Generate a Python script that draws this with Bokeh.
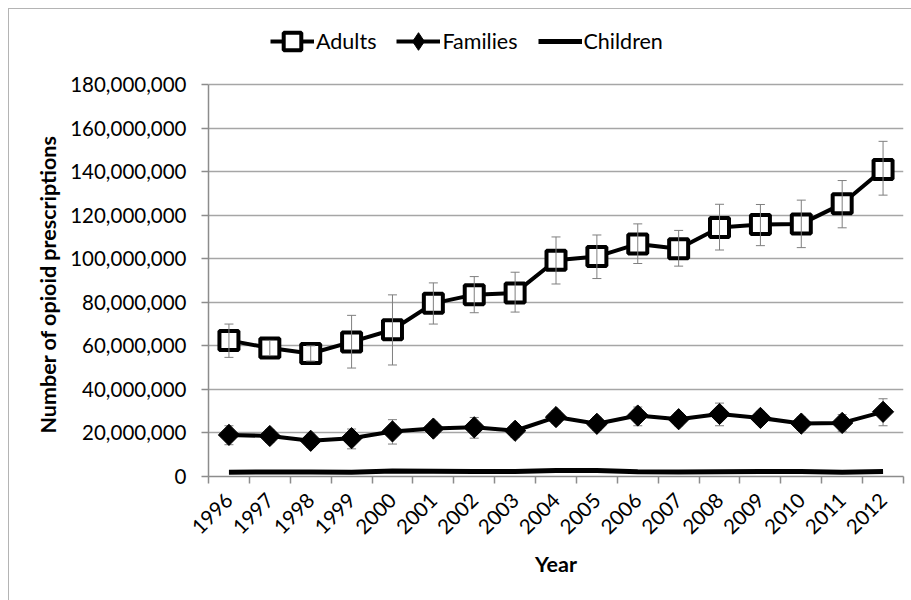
import math
from bokeh.plotting import figure
from bokeh.models import (ColumnDataSource, FixedTicker, NumeralTickFormatter, Legend,
                          LegendItem, Range1d, Whisker, TeeHead, CustomJSTickFormatter, Title)
from bokeh.embed import file_html
from bokeh.resources import INLINE

years = list(range(1996, 2013))
adults = [62.5, 59.0, 56.5, 61.8, 67.4, 79.5, 83.5, 84.3, 99.3, 101.0, 106.8, 104.6,
          114.3, 115.7, 116.0, 125.2, 141.0]
adults_hi = [70.0, 62.5, 60.0, 74.0, 83.4, 88.9, 91.8, 93.8, 110.0, 110.9, 116.0, 113.0,
             125.0, 124.9, 126.9, 135.9, 153.9]
adults_lo = [54.7, 55.5, 53.0, 49.8, 51.2, 70.0, 75.2, 75.5, 88.4, 90.9, 97.8, 96.6,
             104.0, 106.0, 105.1, 114.2, 129.2]
families = [19.1, 18.6, 16.4, 17.6, 20.7, 22.0, 22.6, 21.0, 27.3, 24.2, 28.0, 26.3,
            28.7, 26.9, 24.3, 24.6, 29.7]
families_hi = [23.3, 21.6, 19.4, 21.8, 26.1, 25.0, 27.1, 24.0, 30.3, 27.2, 31.9, 29.3,
               33.7, 29.9, 27.3, 28.4, 35.7]
families_lo = [14.6, 15.6, 13.4, 12.7, 14.9, 19.0, 17.6, 18.0, 24.3, 21.2, 23.3, 23.3,
               23.3, 23.9, 21.3, 20.8, 23.3]
children = [2.0, 2.1, 2.1, 1.9, 2.5, 2.4, 2.3, 2.3, 2.8, 2.7, 2.2, 2.1, 2.2, 2.3, 2.3,
            2.0, 2.3]
y_ticks = [0, 20, 40, 60, 80, 100, 120, 140, 160, 180]

M = 1_000_000
src = ColumnDataSource(dict(
    x=years,
    adults=[v * M for v in adults], adults_hi=[v * M for v in adults_hi],
    adults_lo=[v * M for v in adults_lo],
    families=[v * M for v in families], families_hi=[v * M for v in families_hi],
    families_lo=[v * M for v in families_lo],
    children=[v * M for v in children],
))

FONT = "Lato"
GRAY = "#8c8c8c"

# frame extends above the top gridline to host the legend
FIG_H, TOP, BOTTOM = 592, 0, 125
frame_h = FIG_H - TOP - BOTTOM
grid_h = 392.0
y_max = y_ticks[-1] * M * frame_h / grid_h

p = figure(width=903, height=FIG_H, output_backend="svg", toolbar_location=None,
           x_range=Range1d(years[0] - 0.5, years[-1] + 0.5),
           y_range=Range1d(0, y_max),
           min_border_left=199, min_border_right=9, min_border_top=TOP, min_border_bottom=BOTTOM,
           margin=(8, 0, 0, 8))
p.styles = {"border-left": "1px solid #b4b4b4", "border-top": "1px solid #b4b4b4"}
p.outline_line_color = None
p.background_fill_color = "white"
p.border_fill_color = "white"

# grid
p.xgrid.grid_line_color = None
p.ygrid.grid_line_color = "#a6a6a6"
p.ygrid.grid_line_width = 1.5
p.ygrid.ticker = FixedTicker(ticks=[t * M for t in y_ticks])

# y axis
p.yaxis.ticker = FixedTicker(ticks=[t * M for t in y_ticks])
p.yaxis.bounds = (0, y_ticks[-1] * M)
p.yaxis.formatter = NumeralTickFormatter(format="0,0")
p.yaxis.axis_line_color = GRAY
p.yaxis.axis_line_width = 1.5
p.yaxis.major_tick_line_color = GRAY
p.yaxis.major_tick_line_width = 1.5
p.yaxis.major_tick_out = 7
p.yaxis.major_tick_in = 0
p.yaxis.minor_tick_line_color = None
p.yaxis.major_label_text_font = FONT
p.yaxis.major_label_text_font_size = "20.5px"
p.yaxis.major_label_text_color = "black"
p.yaxis.major_label_standoff = 15

# y axis title as a side title so it centres on the gridded area
ytitle = Title(text="Number of opioid prescriptions", align="left", offset=43,
               text_font=FONT, text_font_style="bold", text_font_size="21.5px",
               text_color="black", standoff=13)
p.add_layout(ytitle, "left")

# x axis
p.xaxis.ticker = FixedTicker(ticks=years, minor_ticks=[y - 0.5 for y in years] + [years[-1] + 0.5])
p.xaxis.formatter = CustomJSTickFormatter(code="return String(tick);")
p.xaxis.axis_line_color = GRAY
p.xaxis.axis_line_width = 1.5
p.xaxis.major_tick_line_color = None
p.xaxis.minor_tick_line_color = GRAY
p.xaxis.minor_tick_line_width = 1.5
p.xaxis.minor_tick_out = 7
p.xaxis.minor_tick_in = 0
p.xaxis.major_label_orientation = math.pi / 4
p.xaxis.major_label_text_font = FONT
p.xaxis.major_label_text_font_size = "20.5px"
p.xaxis.major_label_text_color = "black"
p.xaxis.major_label_standoff = 13
p.xaxis.axis_label = "Year"
p.xaxis.axis_label_text_font = FONT
p.xaxis.axis_label_text_font_style = "bold"
p.xaxis.axis_label_text_font_size = "21.5px"
p.xaxis.axis_label_text_color = "black"
p.xaxis.axis_label_standoff = 7

# families error bars (under markers)
wf = Whisker(base="x", upper="families_hi", lower="families_lo", source=src,
             line_color="#7f7f7f", line_width=1,
             upper_head=TeeHead(size=9, line_color="#7f7f7f", line_width=1),
             lower_head=TeeHead(size=9, line_color="#7f7f7f", line_width=1))
p.add_layout(wf)

# children
ch = p.line("x", "children", source=src, line_color="black", line_width=5)

# families
fl = p.line("x", "families", source=src, line_color="black", line_width=4)
fm = p.scatter("x", "families", source=src, marker="square", angle=math.pi / 4, size=15,
               fill_color="black", line_color="black", line_width=1)
# diamond glyph for the legend (sits hidden inside the rotated-square markers)
fleg = p.scatter("x", "families", source=src, marker="diamond", size=19, fill_color="black",
                 line_color="black", line_width=1)

# adults
al = p.line("x", "adults", source=src, line_color="black", line_width=4)
am = p.scatter("x", "adults", source=src, marker="square", size=19,
               fill_color="white", line_color="black", line_width=4)

wa = Whisker(base="x", upper="adults_hi", lower="adults_lo", source=src,
             line_color="#7f7f7f", line_width=1, level="annotation",
             upper_head=TeeHead(size=9, line_color="#7f7f7f", line_width=1),
             lower_head=TeeHead(size=9, line_color="#7f7f7f", line_width=1))
p.add_layout(wa)

LEG_H = 46
legend = Legend(items=[
    LegendItem(label="Adults", renderers=[al, am]),
    LegendItem(label="Families", renderers=[fl, fleg]),
    LegendItem(label="Children", renderers=[ch]),
], orientation="horizontal", location=(62, frame_h - 9 - LEG_H))
legend.label_text_font = FONT
legend.label_text_font_size = "21.5px"
legend.label_text_color = "black"
legend.border_line_color = None
legend.background_fill_alpha = 0
legend.glyph_width = 44
legend.glyph_height = LEG_H
legend.label_height = LEG_H
legend.label_standoff = 2
legend.spacing = 20
legend.margin = 0
legend.padding = 0
p.add_layout(legend)

open("out.html", "w").write(file_html(p, INLINE))
